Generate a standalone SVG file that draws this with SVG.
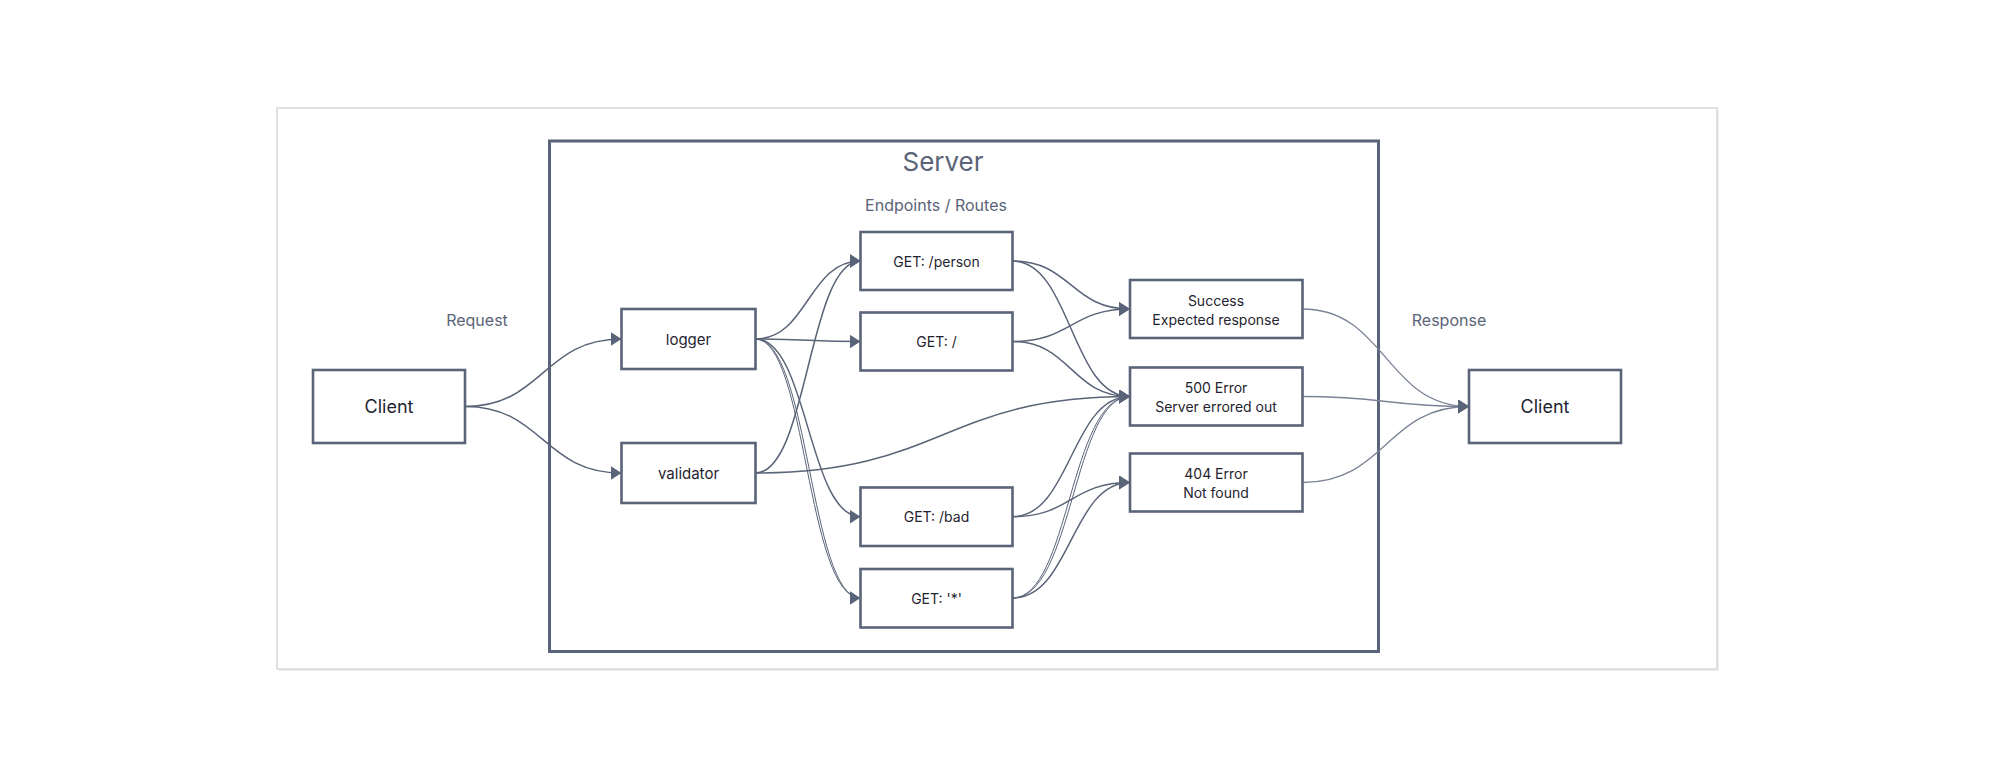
<svg xmlns="http://www.w3.org/2000/svg" width="1994" height="777" viewBox="0 0 1994 777">
<defs>
<marker id="arr" markerUnits="userSpaceOnUse" markerWidth="12" markerHeight="15" refX="11" refY="7" orient="auto">
<path d="M0,0 L11,7 L0,14 z" fill="#5a6478"/>
</marker>
<style>
.box{fill:#ffffff;stroke:#5a6478;stroke-width:2.6}
.lbl{font-family:Inter,"Liberation Sans",sans-serif;fill:#1f2430;text-anchor:middle;dominant-baseline:central}
.cap{font-family:Inter,"Liberation Sans",sans-serif;fill:#5a6478;text-anchor:middle;dominant-baseline:central}
.e{fill:none;stroke:#5a6478;stroke-width:1.5}
.d{fill:none;stroke:#5a6478;stroke-width:1}
.r{fill:none;stroke:#7a8296;stroke-width:1.3}
</style>
</defs>
<rect width="1994" height="777" fill="#ffffff"/>
<rect x="279" y="110" width="1440" height="561" fill="#ececec"/>
<rect x="277" y="108" width="1440" height="561" fill="#ffffff" stroke="#d8d8d8" stroke-width="1.5"/>

<g id="server">
<rect x="549.5" y="141" width="829" height="510.5" fill="none" stroke="#5a6478" stroke-width="3"/>
<text class="cap" x="943" y="161" font-size="26">Server</text>
<text class="cap" x="936" y="205" font-size="16">Endpoints / Routes</text>
</g>
<g id="request-label"><text class="cap" x="477" y="320" font-size="16">Request</text></g>
<g id="response-label"><text class="cap" x="1449" y="320" font-size="16">Response</text></g>

<g id="connectors">
<path class="e" d="M465,406.5 C543,406.5 543,339 621.5,339" marker-end="url(#arr)"/>
<path class="e" d="M465,406.5 C543,406.5 543,473 621.5,473" marker-end="url(#arr)"/>
<path class="e" d="M755.5,339 C808,339 808,261 860.5,261" marker-end="url(#arr)"/>
<path class="e" d="M755.5,339 C808,339 808,341.5 860.5,341.5" marker-end="url(#arr)"/>
<path class="e" d="M755.5,339 C808,339 808,516.7 860.5,516.7" marker-end="url(#arr)"/>
<path class="d" d="M755.5,339 C806.5,339 806.5,598 860.5,598"/>
<path class="d" d="M755.5,339 C809.5,339 809.5,598 860.5,598" marker-end="url(#arr)"/>
<path class="e" d="M755.5,473 C808,473 808,261 860.5,261" marker-end="url(#arr)"/>
<path class="e" d="M755.5,473 C943,473 943,396.5 1130,396.5" marker-end="url(#arr)"/>
<path class="e" d="M1012.5,261 C1071,261 1071,309 1130,309" marker-end="url(#arr)"/>
<path class="e" d="M1012.5,261 C1071,261 1071,396.5 1130,396.5" marker-end="url(#arr)"/>
<path class="e" d="M1012.5,341.5 C1071,341.5 1071,309 1130,309" marker-end="url(#arr)"/>
<path class="e" d="M1012.5,341.5 C1071,341.5 1071,396.5 1130,396.5" marker-end="url(#arr)"/>
<path class="e" d="M1012.5,516.7 C1071,516.7 1071,396.5 1130,396.5" marker-end="url(#arr)"/>
<path class="e" d="M1012.5,516.7 C1071,516.7 1071,482.5 1130,482.5" marker-end="url(#arr)"/>
<path class="d" d="M1012.5,598 C1069.5,598 1069.5,396.5 1130,396.5"/>
<path class="d" d="M1012.5,598 C1073,598 1073,396.5 1130,396.5" marker-end="url(#arr)"/>
<path class="e" d="M1012.5,598 C1071,598 1071,482.5 1130,482.5" marker-end="url(#arr)"/>
<path class="r" d="M1302.5,309 C1386,309 1386,406.5 1469,406.5" marker-end="url(#arr)"/>
<path class="r" d="M1302.5,396.5 C1386,396.5 1386,406.5 1469,406.5" marker-end="url(#arr)"/>
<path class="r" d="M1302.5,482.5 C1386,482.5 1386,406.5 1469,406.5" marker-end="url(#arr)"/>
</g>

<g id="client-left"><rect class="box" x="313" y="370" width="152" height="73"/><text class="lbl" x="389" y="406.5" font-size="18">Client</text></g>
<g id="logger"><rect class="box" x="621.5" y="309" width="134" height="60"/><text class="lbl" x="688.5" y="339" font-size="15">logger</text></g>
<g id="validator"><rect class="box" x="621.5" y="443" width="134" height="60"/><text class="lbl" x="688.5" y="473" font-size="15">validator</text></g>
<g id="get-person"><rect class="box" x="860.5" y="232" width="152" height="58"/><text class="lbl" x="936.5" y="261" font-size="14">GET: /person</text></g>
<g id="get-root"><rect class="box" x="860.5" y="312.5" width="152" height="58"/><text class="lbl" x="936.5" y="341.5" font-size="14">GET: /</text></g>
<g id="get-bad"><rect class="box" x="860.5" y="487.5" width="152" height="58.5"/><text class="lbl" x="936.5" y="516.7" font-size="14">GET: /bad</text></g>
<g id="get-star"><rect class="box" x="860.5" y="569" width="152" height="58.5"/><text class="lbl" x="936.5" y="598" font-size="14">GET: '*'</text></g>
<g id="success"><rect class="box" x="1130" y="280" width="172.5" height="58"/><text class="lbl" x="1216" y="300" font-size="14">Success</text><text class="lbl" x="1216" y="319" font-size="14">Expected response</text></g>
<g id="error500"><rect class="box" x="1130" y="367.5" width="172.5" height="58"/><text class="lbl" x="1216" y="387" font-size="14">500 Error</text><text class="lbl" x="1216" y="406" font-size="14">Server errored out</text></g>
<g id="error404"><rect class="box" x="1130" y="453.5" width="172.5" height="58"/><text class="lbl" x="1216" y="473" font-size="14">404 Error</text><text class="lbl" x="1216" y="492" font-size="14">Not found</text></g>
<g id="client-right"><rect class="box" x="1469" y="370" width="152" height="73"/><text class="lbl" x="1545" y="406.5" font-size="18">Client</text></g>
</svg>
